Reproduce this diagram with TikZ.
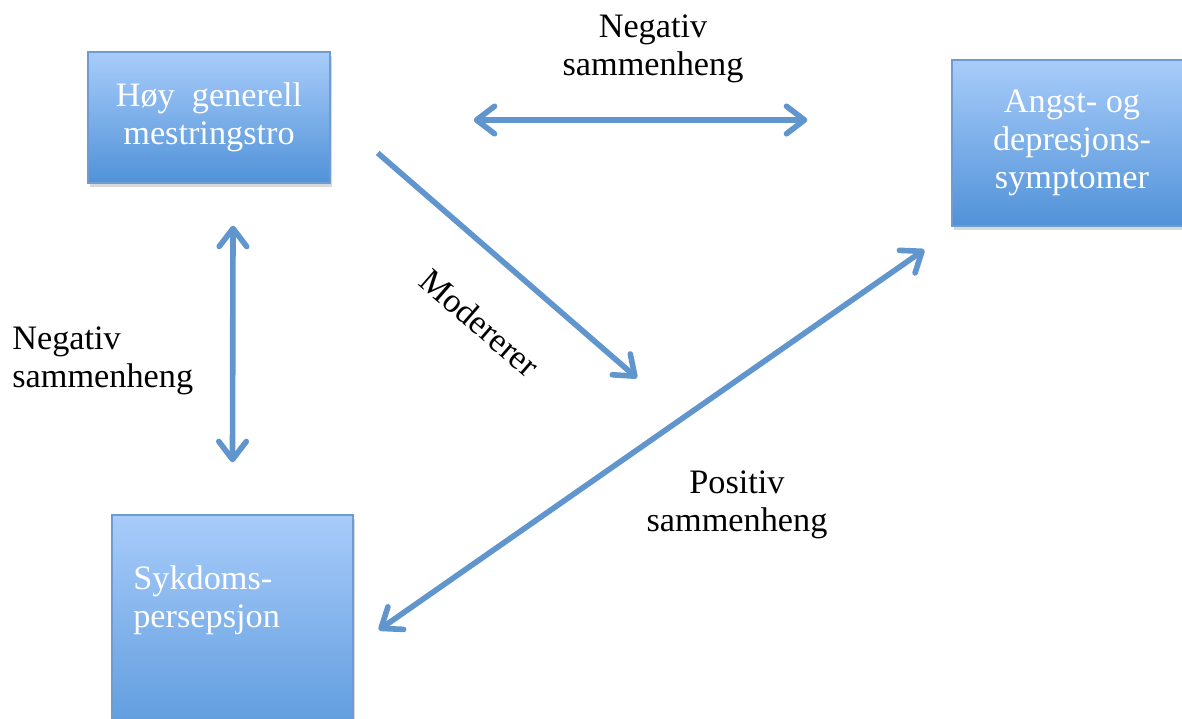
\documentclass[tikz,border=0pt]{standalone}
\usepackage{fontspec}
\setmainfont{Liberation Serif}
\usetikzlibrary{arrows.meta,calc,shadows}

\definecolor{boxtop}{RGB}{168,204,250}
\definecolor{boxbottom}{RGB}{80,146,216}
\definecolor{boxedge}{RGB}{110,155,208}
\definecolor{linkblue}{RGB}{96,150,205}

\begin{document}
\begin{tikzpicture}[
  x=0.02cm,
  y=-0.02cm,
  font=\fontsize{19.5}{21.6}\selectfont,
  conceptbox/.style={
    draw=boxedge,
    line width=0.8pt,
    top color=boxtop,
    bottom color=boxbottom,
    text=white,
    align=center,
    inner sep=0pt,
    drop shadow={opacity=0.3, shadow xshift=1pt, shadow yshift=-2.5pt}
  },
  linklabel/.style={
    inner sep=0pt,
    align=center
  },
  biarrow/.style={
    draw=linkblue,
    line width=3.2pt,
    {Straight Barb[length=0.36cm,width=0.55cm,round]}-{Straight Barb[length=0.36cm,width=0.55cm,round]}
  },
  onearrow/.style={
    draw=linkblue,
    line width=3.2pt,
    -{Straight Barb[length=0.36cm,width=0.55cm,round]}
  }
]

\useasboundingbox (0,0) rectangle (1182,718);

% boxes
\node[conceptbox, minimum width=242*0.02cm, minimum height=131*0.02cm] (hoy) at (209,117.5)
  {Høy\ \ generell\\mestringstro};
\node[conceptbox, minimum width=240*0.02cm, minimum height=166*0.02cm] (angst) at (1072,143)
  {Angst- og\\depresjons-\\symptomer};
\node[conceptbox, minimum width=241*0.02cm, minimum height=260*0.02cm] (syk) at (232.5,645) {};
\node[linklabel, anchor=west, align=left, text=white] (syktext) at (133,600)
  {Sykdoms-\\persepsjon};

% labels
\node[linklabel] (toplabel) at (653,49) {Negativ\\sammenheng};
\node[linklabel, anchor=west, align=left] (leftlabel) at (12,361) {Negativ\\sammenheng};
\node[linklabel, rotate=-41] (modlabel) at (480,323) {Modererer};
\node[linklabel] (poslabel) at (737,505) {Positiv\\sammenheng};

\coordinate (modend) at (637,378);

% connectors
\draw[biarrow] ($(hoy.east)+(143,2.5)$) -- ($(angst.west)+(-144,-23)$);
\draw[biarrow] ($(hoy.south)+(24,42)$) -- ($(syk.north)+(0,-52)$);
\draw[onearrow] ($(hoy.east)+(47,35.5)$) -- (modend);
\draw[biarrow] ($(syk.east)+(25,-15)$) -- ($(angst.south west)+(-27,23)$);

\end{tikzpicture}
\end{document}
